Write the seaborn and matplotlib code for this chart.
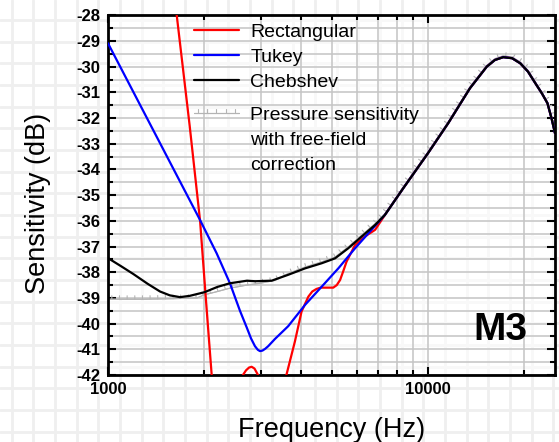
import numpy as np
import matplotlib
matplotlib.use('Agg')
import matplotlib.pyplot as plt
import matplotlib.patheffects as pe
from matplotlib.lines import Line2D
from matplotlib.ticker import NullFormatter
import seaborn as sns

# 三条曲线在 ~7.3 kHz 以上重合的共用尾段
tail_freq = [7337, 8374, 10000, 11570, 13530, 15270, 16190, 17190,
             18320, 19440, 20540, 21830, 22710, 23630, 24330, 24950]
tail_db = [-35.77, -34.73, -33.37, -32.20, -30.84, -30.00, -29.74, -29.63,
           -29.67, -29.87, -30.19, -30.71, -31.04, -31.42, -32.00, -32.59]

# Rectangular (超出 -28 / -42 的部分被坐标轴裁掉)
rect_freq = [1550, 1640, 1800, 1940, 2030, 2109, 2250, 2450, 2641, 2700, 2760,
             2812, 2870, 2944, 3150, 3400, 3616, 3838, 4027, 4229, 4350, 4486,
             4620, 4766, 5060, 5190, 5315, 5440, 5566, 5917, 6353, 6838]
rect_db = [-25.3, -28.0, -32.3, -36.0, -39.3, -42.0, -44.0, -43.5, -42.0, -41.82,
           -41.71, -41.68, -41.75, -42.0, -43.0, -42.8, -41.97, -40.70, -39.53,
           -38.95, -38.75, -38.65, -38.60, -38.60, -38.60, -38.50, -38.30, -37.95,
           -37.59, -36.94, -36.61, -36.35]

# Tukey
tukey_freq = [1000, 1940, 2185, 2405, 2585, 2714, 2800, 2880, 2940, 2985, 3040,
              3100, 3167, 3324, 3658, 4130, 4657, 5247, 5917, 6660]
tukey_db = [-29.09, -35.97, -37.26, -38.43, -39.50, -40.15, -40.58, -40.88, -41.02,
            -41.07, -41.05, -40.98, -40.88, -40.60, -40.10, -39.27, -38.56, -37.85,
            -37.07, -36.35]

# Chebshev
cheb_freq = [1000, 1100, 1200, 1330, 1454, 1560, 1679, 1800, 2000, 2200, 2405,
             2719, 2881, 3247, 3658, 4130, 4657, 5124, 5632, 6208, 6838]
cheb_db = [-37.45, -37.77, -38.07, -38.45, -38.75, -38.90, -38.97, -38.92, -38.78,
           -38.57, -38.43, -38.33, -38.35, -38.33, -38.10, -37.85, -37.65, -37.46,
           -37.07, -36.61, -36.16]

# 声压灵敏度 + 自由场修正
press_freq = [1000, 1300, 1600, 1900, 2000, 2200, 2405, 2719, 2985, 3324, 3658,
              4130, 4657, 5124, 5632, 6208, 6838, 7337, 8374, 10000, 11570, 13530,
              15270, 16190, 17190, 18320, 19440, 20540, 21830, 22710, 23630, 24330,
              24950]
press_db = [-39.05, -39.05, -39.03, -39.0, -38.88, -38.75, -38.62, -38.50, -38.43,
            -38.32, -38.05, -37.80, -37.60, -37.41, -37.02, -36.56, -36.11, -35.72,
            -34.68, -33.32, -32.15, -30.79, -29.95, -29.69, -29.58, -29.62, -29.82,
            -30.14, -30.66, -31.00, -31.38, -31.96, -32.55]

legend_labels = ['Rectangular', 'Tukey', 'Chebshev', 'Pressure sensitivity',
                 'with free-field', 'correction']
x_major_ticks = [1000, 10000]
x_minor_ticks = [2000, 3000, 4000, 5000, 6000, 7000, 8000, 9000, 20000]
y_ticks = list(range(-42, -27))

sns.set_theme(style='white')
plt.rcParams['font.family'] = ['Liberation Sans', 'DejaVu Sans']
plt.rcParams['axes.unicode_minus'] = False
plt.rcParams['text.color'] = 'black'
plt.rcParams['axes.labelcolor'] = 'black'
plt.rcParams['xtick.color'] = 'black'
plt.rcParams['ytick.color'] = 'black'

fig = plt.figure(figsize=(5.59, 4.42), dpi=100)

# 背景的浅色方格
bg = fig.add_axes([0, 0, 1, 1], zorder=-10)
bg.set_xlim(0, 559)
bg.set_ylim(442, 0)
for xv in np.arange(11.7, 559, 21.67):
    bg.axvline(xv, color='#efefef', lw=2)
for yv in np.arange(19.9, 442, 21.67):
    bg.axhline(yv, color='#efefef', lw=2)
bg.axis('off')

ax = fig.add_axes([0.1932, 0.1516, 0.7996, 0.8138])
ax.set_facecolor((1, 1, 1, 0.6))
ax.set_xscale('log')

ticked = [pe.withTickedStroke(spacing=5.5, angle=90, length=0.45), pe.Normal()]
sns.lineplot(x=press_freq, y=press_db, ax=ax, color='#b4b4b4', lw=0.8,
             path_effects=ticked, sort=False, zorder=2)
sns.lineplot(x=rect_freq + tail_freq, y=rect_db + tail_db, ax=ax, color='#ff0000',
             lw=1.6, sort=False, zorder=3)
sns.lineplot(x=tukey_freq + tail_freq, y=tukey_db + tail_db, ax=ax, color='#0000ff',
             lw=1.6, sort=False, zorder=4)
sns.lineplot(x=cheb_freq + tail_freq, y=cheb_db + tail_db, ax=ax, color='black',
             lw=1.6, sort=False, zorder=5)

press_line, rect_line, tukey_line, cheb_line = ax.lines[:4]
blank = Line2D([], [], lw=0)
leg_kw = dict(loc='upper left', frameon=False, fontsize=14, handlelength=2.3,
              handletextpad=0.6, labelspacing=0.39, borderpad=0, borderaxespad=0)
leg1 = ax.legend([rect_line, tukey_line, cheb_line], legend_labels[:3],
                 bbox_to_anchor=((194 - 108) / 447, 0.978), **leg_kw)
ax.add_artist(leg1)
ax.legend([press_line, blank, blank], legend_labels[3:],
          bbox_to_anchor=((194 - 108) / 447, 0.748), **leg_kw)

ax.set_xlim(1000, 24950)
ax.set_ylim(-42, -28)
ax.set_xticks(x_major_ticks, labels=[str(v) for v in x_major_ticks],
              fontweight='bold', fontsize=12)
ax.set_xticks(x_minor_ticks, minor=True)
ax.xaxis.set_minor_formatter(NullFormatter())
ax.set_yticks(y_ticks, labels=[str(v) for v in y_ticks], fontweight='bold', fontsize=12)
ax.set_yticks([v + 0.5 for v in y_ticks[:-1]], minor=True)

ax.tick_params(which='both', direction='in', top=True, right=True, width=1.5,
               color='black', bottom=True, left=True)
ax.tick_params(which='major', length=6)
ax.tick_params(which='minor', length=3.5)
ax.tick_params(axis='y', pad=5.5)
ax.tick_params(axis='x', pad=5)
for sp in ax.spines.values():
    sp.set_linewidth(2)
    sp.set_color('black')
ax.grid(which='both', color='#c4c4c4', lw=1.1)

ax.set_xlabel('Frequency (Hz)', fontsize=19.5)
ax.set_ylabel('Sensitivity (dB)', fontsize=19.5)
ax.xaxis.set_label_coords(0.5, -0.117)
ax.yaxis.set_label_coords(-0.1275, 0.477)

ax.text(0.877, 0.125, 'M3', transform=ax.transAxes, ha='center', va='center',
        fontsize=28, fontweight='bold')

fig.savefig('out.png', dpi=100)
